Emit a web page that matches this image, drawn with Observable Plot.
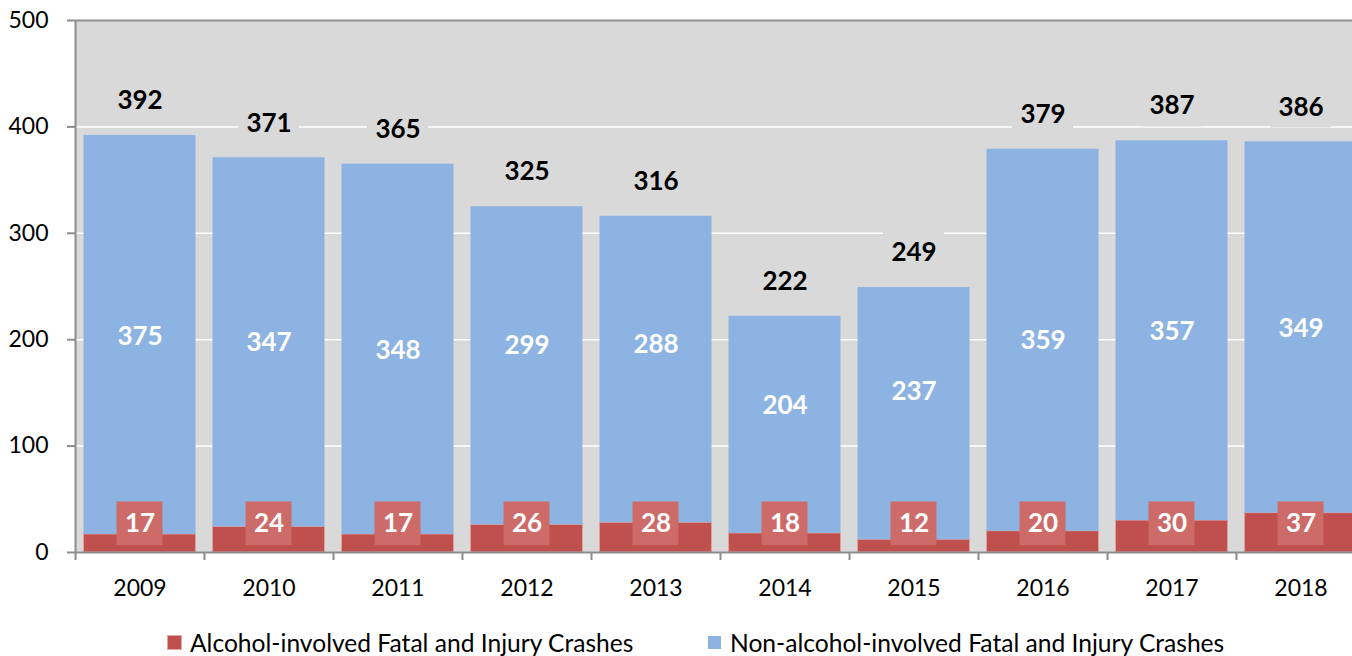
<!DOCTYPE html>
<html>
<head>
<meta charset="utf-8">
<script src="https://cdn.jsdelivr.net/npm/d3@7"></script>
<script src="https://cdn.jsdelivr.net/npm/@observablehq/plot@0.6"></script>
<style>
  html, body { margin: 0; padding: 0; background: #fff; overflow: hidden; }
  #chart { width: 1365px; }
  .legend { position: absolute; top: 626px; left: 0; width: 1352px; height: 32px; font-family: Lato, sans-serif; font-size: 24.6px; color: #000; }
  .legend .item { position: absolute; top: 0; display: flex; align-items: center; height: 32px; white-space: nowrap; }
  .legend .sw { width: 13px; height: 13px; margin-right: 9px; }
</style>
</head>
<body>
<div id="chart"></div>
<div class="legend">
  <div class="item" style="left:168px"><span class="sw" style="background:#c0504d;outline:1px solid #e6a6a4"></span><span id="lg1"></span></div>
  <div class="item" style="left:708px"><span class="sw" style="background:#8db3e2"></span><span id="lg2"></span></div>
</div>
<script>
const years = ["2009","2010","2011","2012","2013","2014","2015","2016","2017","2018"];
const alcohol = [17, 24, 17, 26, 28, 18, 12, 20, 30, 37];
const nonAlcohol = [375, 347, 348, 299, 288, 204, 237, 359, 357, 349];
const totals = [392, 371, 365, 325, 316, 222, 249, 379, 387, 386];
// where the white non-alcohol labels sit (value units)
const nonAlcoholLabelAt = [203, 197, 190, 194, 195.5, 138, 151, 199, 208, 210.5];
const yTicks = [0, 100, 200, 300, 400, 500];
const seriesNames = ["Alcohol-involved Fatal and Injury Crashes", "Non-alcohol-involved Fatal and Injury Crashes"];

document.getElementById("lg1").textContent = seriesNames[0];
document.getElementById("lg2").textContent = seriesNames[1];

const rows = years.map((y, i) => ({
  year: y, alc: alcohol[i], non: nonAlcohol[i], total: totals[i], labelAt: nonAlcoholLabelAt[i]
}));

const font = "Lato, sans-serif";
const bg = "#d9d9d9";

const chart = Plot.plot({
  width: 1365,
  height: 600,
  marginLeft: 75,
  marginRight: 0,
  marginTop: 20,
  marginBottom: 48,
  style: { fontFamily: font, background: "#fff", overflow: "visible" },
  x: { domain: years, padding: 0, label: null },
  y: { domain: [0, 500], label: null },
  marks: [
    Plot.frame({ fill: bg, stroke: null }),
    Plot.gridY(yTicks, { stroke: "#fff", strokeOpacity: 1, strokeWidth: 1.5 }),
    // total label backgrounds (cover the gridlines)
    Plot.rect(rows, { x: "year", y1: d => d.total + 13, y2: d => d.total + 52, fill: bg, insetLeft: 34, insetRight: 34 }),
    // alcohol bars (bottom)
    Plot.rectY(rows, { x: "year", y1: 0, y2: "alc", fill: "#c0504d", stroke: "#e0a09e", strokeWidth: 1, insetLeft: 8.5, insetRight: 8.5 }),
    // non-alcohol bars (stacked on top)
    Plot.rectY(rows, { x: "year", y1: "alc", y2: "total", fill: "#8db3e2", insetLeft: 8.5, insetRight: 8.5 }),
    // alcohol label boxes
    Plot.rect(rows, { x: "year", y1: 6.5, y2: 47.5, fill: "#cd6b69", insetLeft: 41.5, insetRight: 41.5 }),
    Plot.text(rows, { x: "year", y: 27.3, text: d => String(d.alc), fill: "#fff", fontWeight: "bold", fontSize: 26, fontFamily: font }),
    Plot.text(rows, { x: "year", y: "labelAt", text: d => String(d.non), fill: "#fff", fontWeight: "bold", fontSize: 26, fontFamily: font }),
    Plot.text(rows, { x: "year", y: d => d.total + 32.5, text: d => String(d.total), fill: "#000", fontWeight: "bold", fontSize: 26, fontFamily: font }),
    // top border line
    Plot.ruleY([500], { stroke: "#8c8c8c", strokeWidth: 2 }),
    // baseline
    Plot.ruleY([0], { stroke: "#8c8c8c", strokeWidth: 2 }),
    // y axis line
    Plot.ruleX([years[0]], { dx: -64.5, y1: 0, y2: 500, stroke: "#8c8c8c", strokeWidth: 2 }),
    // x boundary ticks
    Plot.ruleX(years, { dx: -64.5, y1: 0, y2: -7.5, stroke: "#8c8c8c", strokeWidth: 2 }),
    Plot.axisY(yTicks, { tickSize: 8, tickPadding: 19, stroke: "#8c8c8c", strokeWidth: 2, fontSize: 23, fill: "#000", fontFamily: font, label: null }),
    Plot.axisX({ tickSize: 0, tickPadding: 27, fontSize: 23, fill: "#000", fontFamily: font, label: null })
  ]
});
document.getElementById("chart").appendChild(chart);
</script>
</body>
</html>
